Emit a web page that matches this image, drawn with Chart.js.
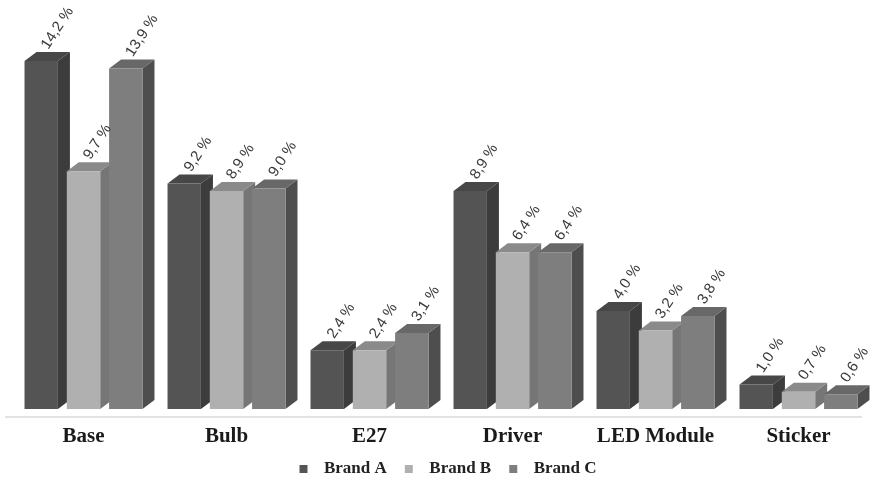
<!DOCTYPE html>
<html lang="en">
<head>
<meta charset="UTF-8" />
<title>Component share by brand</title>
<script src="https://cdn.jsdelivr.net/npm/chart.js"></script>
<style>
  html, body { margin: 0; padding: 0; background: #fff; }
  #wrap { width: 874px; height: 480px; position: relative; }
</style>
</head>
<body>
<div id="wrap"><canvas id="chart"></canvas></div>
<script>
// values in percent
const categories = ["Base", "Bulb", "E27", "Driver", "LED Module", "Sticker"];
const brandA = [14.2, 9.2, 2.4, 8.9, 4.0, 1.0];
const brandB = [9.7, 8.9, 2.4, 6.4, 3.2, 0.7];
const brandC = [13.9, 9.0, 3.1, 6.4, 3.8, 0.6];
const seriesNames = ["Brand A", "Brand B", "Brand C"];

// front / right side / top face shades for each brand
const faceColors = [
  { front: "#545454", side: "#3c3c3c", top: "#474747" },
  { front: "#b0b0b0", side: "#767676", top: "#8a8a8a" },
  { front: "#7e7e7e", side: "#4e4e4e", top: "#686868" },
];

const DEPTH_X = 12; // how far the bar's depth runs to the right
const DEPTH_Y = 9;  // ... and upward

function legendSwatch(color) {
  const c = document.createElement("canvas");
  c.width = 30;
  c.height = 8;
  const g = c.getContext("2d");
  g.fillStyle = color;
  g.fillRect(14, 0, 8, 8);
  return c;
}

function fmtPct(v) {
  return v.toFixed(1).replace(".", ",") + " %";
}

// draws the side and top faces behind the flat bars, plus the floor line
const bar3d = {
  id: "bar3d",
  beforeDatasetsDraw(chart) {
    const ctx = chart.ctx;
    const area = chart.chartArea;
    ctx.save();
    ctx.strokeStyle = "#e3e3e3";
    ctx.lineWidth = 2;
    ctx.beginPath();
    ctx.moveTo(5, area.bottom + 8);
    ctx.lineTo(862, area.bottom + 8);
    ctx.stroke();

    const bars = [];
    chart.data.datasets.forEach((ds, i) => {
      chart.getDatasetMeta(i).data.forEach((el) => bars.push({ el, c: faceColors[i] }));
    });
    bars.sort((a, b) => a.el.x - b.el.x);
    bars.forEach(({ el, c }) => {
      const l = el.x - el.width / 2;
      const r = el.x + el.width / 2;
      ctx.fillStyle = c.side;
      ctx.beginPath();
      ctx.moveTo(r, el.y);
      ctx.lineTo(r + DEPTH_X, el.y - DEPTH_Y);
      ctx.lineTo(r + DEPTH_X, el.base - DEPTH_Y);
      ctx.lineTo(r, el.base);
      ctx.closePath();
      ctx.fill();
      ctx.fillStyle = c.top;
      ctx.beginPath();
      ctx.moveTo(l, el.y);
      ctx.lineTo(l + DEPTH_X, el.y - DEPTH_Y);
      ctx.lineTo(r + DEPTH_X, el.y - DEPTH_Y);
      ctx.lineTo(r, el.y);
      ctx.closePath();
      ctx.fill();
    });
    ctx.restore();
  },
  afterDatasetsDraw(chart) {
    const ctx = chart.ctx;
    ctx.save();
    ctx.font = '15px "Liberation Sans", Arial, sans-serif';
    ctx.fillStyle = "#3a3a3a";
    ctx.textAlign = "left";
    ctx.textBaseline = "alphabetic";
    chart.data.datasets.forEach((ds, i) => {
      chart.getDatasetMeta(i).data.forEach((el, j) => {
        ctx.save();
        ctx.translate(el.x + 7, el.y - 11);
        ctx.rotate((-57 * Math.PI) / 180);
        ctx.fillText(fmtPct(ds.data[j]), 0, 0);
        ctx.restore();
      });
    });
    ctx.restore();
  },
};

const datasets = [brandA, brandB, brandC].map((vals, i) => ({
  label: seriesNames[i],
  data: vals,
  backgroundColor: faceColors[i].front,
  borderWidth: 0,
  pointStyle: legendSwatch(faceColors[i].front),
  categoryPercentage: 0.887,
  barPercentage: 0.79,
}));

new Chart(document.getElementById("chart"), {
  type: "bar",
  data: { labels: categories, datasets },
  options: {
    responsive: true,
    maintainAspectRatio: false,
    animation: false,
    layout: { padding: { left: 12, right: 4, top: 17, bottom: -7 } },
    plugins: {
      tooltip: { enabled: false },
      legend: {
        position: "bottom",
        labels: {
          usePointStyle: true,
          pointStyleWidth: 30,
          padding: 4,
          color: "#222",
          font: { family: '"Liberation Serif", "Times New Roman", serif', size: 17, weight: "bold" },
        },
      },
    },
    scales: {
      x: {
        grid: { display: false, drawTicks: false },
        border: { display: false },
        ticks: {
          padding: 15,
          color: "#1a1a1a",
          font: { family: '"Liberation Serif", "Times New Roman", serif', size: 21, weight: "bold" },
        },
        afterFit(scale) {
          scale.height = 47;
        },
      },
      y: { display: false, min: 0, max: 16 },
    },
  },
  plugins: [bar3d],
});
</script>
</body>
</html>
